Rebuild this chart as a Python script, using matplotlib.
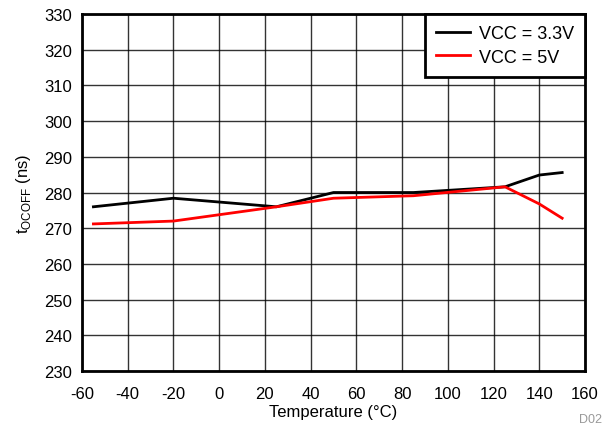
import matplotlib
matplotlib.use("Agg")
import matplotlib.pyplot as plt

# Temperature sweep (degC) and t_OCOFF (ns) for each supply
temp = [-55, -20, 25, 50, 85, 125, 140, 150]
tocoff_3v3 = [276.0, 278.4, 276.0, 280.0, 280.0, 281.6, 284.9, 285.6]
tocoff_5v = [271.2, 272.0, 276.0, 278.4, 279.1, 281.6, 276.8, 272.8]

x_ticks = list(range(-60, 161, 20))
y_ticks = list(range(230, 331, 10))

plt.rcParams["font.family"] = ["Liberation Sans", "DejaVu Sans"]
plt.rcParams["mathtext.fontset"] = "custom"
plt.rcParams["mathtext.rm"] = "Liberation Sans"
plt.rcParams["axes.unicode_minus"] = False

fig = plt.figure(figsize=(6.05, 4.31), dpi=100)
ax = fig.add_axes([0.1355, 0.137, 0.8315, 0.828])

ax.plot(temp, tocoff_3v3, color="black", linewidth=2, label="VCC = 3.3V", zorder=3)
ax.plot(temp, tocoff_5v, color="#ff0000", linewidth=2, label="VCC = 5V", zorder=3)

ax.set_xlim(-60, 160)
ax.set_ylim(230, 330)
ax.set_xticks(x_ticks)
ax.set_yticks(y_ticks)
ax.tick_params(labelsize=12, length=0)
ax.tick_params(axis="x", pad=11)
ax.tick_params(axis="y", pad=7)
ax.grid(True, color="black", linewidth=1, alpha=0.8)
for sp in ax.spines.values():
    sp.set_linewidth(2)

ax.set_xlabel("Temperature (°C)", fontsize=12, labelpad=2)
ax.set_ylabel(r"t$_{\mathregular{OCOFF}}$ (ns)", fontsize=12, labelpad=8)

leg = ax.legend(loc="upper right", fontsize=13, fancybox=False, framealpha=1,
                edgecolor="black", borderaxespad=0, handlelength=1.85,
                handletextpad=0.5, labelspacing=0.35, borderpad=0.62)
leg.get_frame().set_linewidth(2)

fig.text(0.995, 0.012, "D02", color="#999999", fontsize=9, ha="right", va="bottom")

fig.savefig("out.png", dpi=100)
